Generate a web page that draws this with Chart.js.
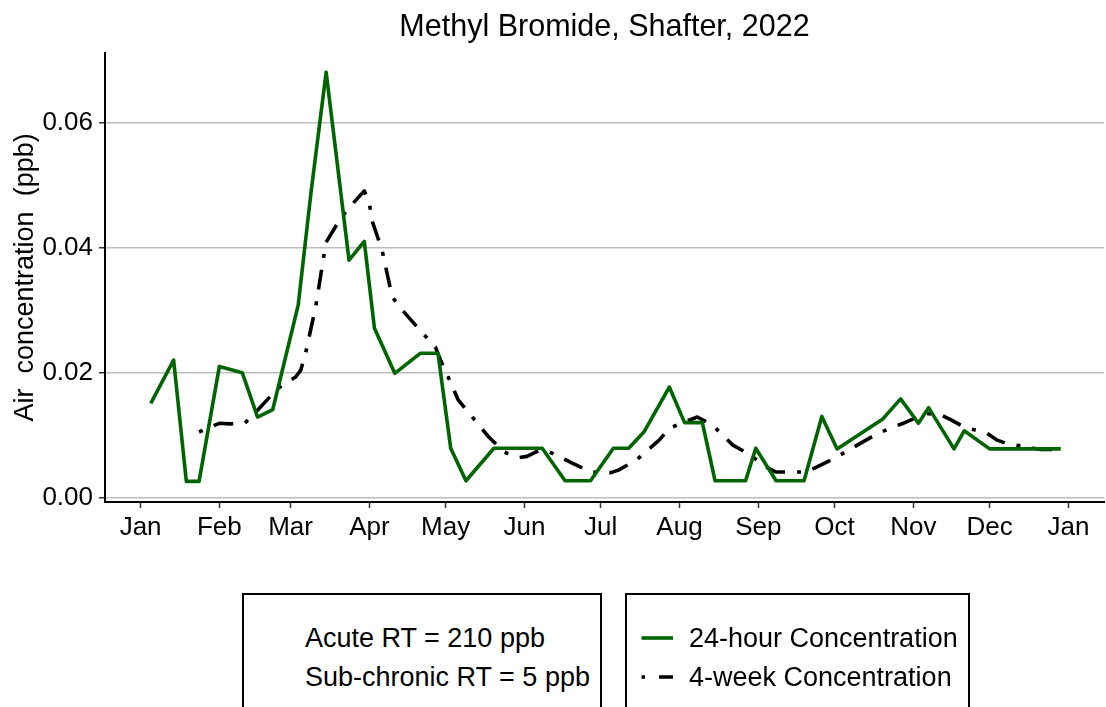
<!DOCTYPE html>
<html>
<head>
<meta charset="utf-8">
<script src="https://cdn.jsdelivr.net/npm/chart.js"></script>
<style>
  html, body { margin: 0; padding: 0; background: #fff; }
  #wrap { position: relative; width: 1106px; height: 707px; overflow: hidden; font-family: "Liberation Sans", Arial, sans-serif; color: #000; }
  #c { position: absolute; left: 0; top: 0; }
  .box { position: absolute; top: 593px; height: 140px; border: 2px solid #000; box-sizing: border-box; background: #fff; }
  .txt { position: absolute; font-size: 27px; line-height: 30px; white-space: nowrap; }
  .key { position: absolute; }
</style>
</head>
<body>
<div id="wrap">
  <canvas id="c" width="1106" height="707"></canvas>
  <div class="box" style="left:242px;width:360px;"></div>
  <div class="box" id="legbox" style="left:625px;width:345px;"></div>
</div>
<script>
// ---- data ----
const chartTitle = "Methyl Bromide, Shafter, 2022";
const yAxisTitle = "Air  concentration  (ppb)";
const thresholdNotes = ["Acute RT = 210 ppb", "Sub-chronic RT = 5 ppb"];

const seriesNames = ["24-hour Concentration", "4-week Concentration"];

const dates24h = ["2022-01-05","2022-01-14","2022-01-19","2022-01-24","2022-02-01","2022-02-10","2022-02-16","2022-02-22",
  "2022-03-04","2022-03-09","2022-03-15","2022-03-24","2022-03-30","2022-04-03","2022-04-11","2022-04-21","2022-04-28",
  "2022-05-03","2022-05-09","2022-05-20","2022-06-08","2022-06-17","2022-06-27","2022-07-06","2022-07-12","2022-07-18",
  "2022-07-28","2022-08-03","2022-08-10","2022-08-15","2022-08-27","2022-08-31","2022-09-08","2022-09-19","2022-09-26",
  "2022-10-02","2022-10-20","2022-10-27","2022-11-03","2022-11-07","2022-11-17","2022-11-21","2022-12-01","2022-12-29"];
const values24h = [0.0151,0.0220,0.0026,0.0026,0.0210,0.0200,0.0129,0.0141,
  0.0308,0.0487,0.0681,0.0380,0.0410,0.0271,0.0199,0.0231,0.0231,
  0.0079,0.0027,0.0079,0.0079,0.0027,0.0027,0.0079,0.0079,0.0105,
  0.0177,0.0120,0.0120,0.0027,0.0027,0.0079,0.0027,0.0027,0.0130,
  0.0078,0.0126,0.0158,0.0119,0.0144,0.0078,0.0107,0.0078,0.0078];

const dates4wk = ["2022-01-24","2022-02-01","2022-02-05","2022-02-11","2022-02-16","2022-02-24","2022-03-03","2022-03-05",
  "2022-03-07","2022-03-11","2022-03-14","2022-03-15","2022-03-21","2022-03-26","2022-03-30","2022-04-01","2022-04-02",
  "2022-04-06","2022-04-10","2022-04-14","2022-04-22","2022-04-27","2022-04-29","2022-05-02","2022-05-06","2022-05-18",
  "2022-05-24","2022-05-30","2022-06-02","2022-06-07","2022-06-11","2022-06-20","2022-06-27","2022-07-05","2022-07-08",
  "2022-07-15","2022-07-24","2022-07-28","2022-08-03","2022-08-08","2022-08-14","2022-08-22","2022-08-29","2022-09-04",
  "2022-09-08","2022-09-14","2022-09-20","2022-10-01","2022-10-18","2022-10-28","2022-11-06","2022-11-12","2022-11-16",
  "2022-11-21","2022-11-30","2022-12-04","2022-12-08","2022-12-16","2022-12-21","2022-12-29"];
const values4wk = [0.0105,0.0119,0.0118,0.0119,0.0140,0.0175,0.0193,0.0204,
  0.0233,0.0308,0.0385,0.0409,0.0449,0.0473,0.0491,0.0471,0.0444,
  0.0396,0.0321,0.0300,0.0263,0.0241,0.0220,0.0193,0.0156,0.0097,
  0.0073,0.0064,0.0066,0.0076,0.0073,0.0055,0.0041,0.0040,0.0044,
  0.0060,0.0092,0.0111,0.0121,0.0129,0.0116,0.0084,0.0068,0.0049,
  0.0041,0.0041,0.0041,0.0063,0.0103,0.0119,0.0135,0.0132,0.0124,
  0.0113,0.0103,0.0092,0.0086,0.0081,0.0077,0.0077];

const monthTickDates = ["2022-01-01","2022-02-01","2022-03-01","2022-04-01","2022-05-01","2022-06-01","2022-07-01",
  "2022-08-01","2022-09-01","2022-10-01","2022-11-01","2022-12-01","2023-01-01"];
const monthTickLabels = ["Jan","Feb","Mar","Apr","May","Jun","Jul","Aug","Sep","Oct","Nov","Dec","Jan"];
const yTickValues = [0, 0.02, 0.04, 0.06];
const yTickLabels = ["0.00", "0.02", "0.04", "0.06"];

// ---- helpers ----
const ORIGIN = Date.UTC(2022, 0, 1);
function dayOf(s) {
  const [y, m, d] = s.split("-").map(Number);
  return (Date.UTC(y, m - 1, d) - ORIGIN) / 86400000;
}
const pts24 = dates24h.map((d, i) => ({ x: dayOf(d), y: values24h[i] }));
const pts4w = dates4wk.map((d, i) => ({ x: dayOf(d), y: values4wk[i] }));
const monthTickDays = monthTickDates.map(dayOf);

const GREEN = "#006400";
const FONT = "'Liberation Sans', Arial, sans-serif";
const DASH = [4, 12, 20, 12];

new Chart(document.getElementById("c"), {
  type: "line",
  data: {
    datasets: [
      { label: seriesNames[0], data: pts24, borderColor: GREEN, backgroundColor: GREEN, borderWidth: 3.6,
        pointRadius: 0, tension: 0, borderJoinStyle: "round", fill: false },
      { label: seriesNames[1], data: pts4w, borderColor: "#000", backgroundColor: "#000", borderWidth: 3.6,
        borderDash: DASH, pointRadius: 0, tension: 0, borderJoinStyle: "round", fill: false }
    ]
  },
  options: {
    responsive: false,
    animation: false,
    devicePixelRatio: 1,
    layout: { padding: { left: 0, right: 2, top: 0, bottom: 0 } },
    plugins: {
      legend: { display: false },
      tooltip: { enabled: false },
      title: {
        display: true, text: chartTitle, color: "#000", fullSize: false,
        font: { family: FONT, size: 30.5, weight: "normal" },
        padding: { top: 9, bottom: 7.2 }
      }
    },
    scales: {
      x: {
        type: "linear", min: -14, max: 379,
        afterBuildTicks: (s) => { s.ticks = monthTickDays.map(v => ({ value: v })); },
        afterFit: (s) => { s.height = 205; },
        ticks: {
          autoSkip: false, maxRotation: 0, color: "#000", padding: 4,
          font: { family: FONT, size: 26 },
          callback: (v, i) => monthTickLabels[i]
        },
        grid: { drawOnChartArea: false, drawTicks: true, tickLength: 6, tickColor: "#333", tickWidth: 1.5 },
        border: { display: true, color: "#000", width: 2 }
      },
      y: {
        type: "linear", min: -0.0007, max: 0.0712,
        afterBuildTicks: (s) => { s.ticks = yTickValues.map(v => ({ value: v })); },
        afterFit: (s) => { s.width = 105; },
        ticks: {
          color: "#000", padding: 6,
          font: { family: FONT, size: 26 },
          callback: (v, i) => yTickLabels[i]
        },
        grid: { color: "#bdbdbd", lineWidth: 1.5, drawTicks: true, tickLength: 6, tickColor: "#333", tickWidth: 1.5 },
        border: { display: true, color: "#000", width: 2 },
        title: {
          display: true, text: yAxisTitle, color: "#000",
          font: { family: FONT, size: 27, weight: "normal" },
          padding: { top: 9, bottom: 0 }
        }
      }
    }
  }
});

// ---- legend boxes (HTML text) ----
const wrap = document.getElementById("wrap");
function addText(txt, left, cy) {
  const d = document.createElement("div");
  d.className = "txt";
  d.style.left = left + "px";
  d.style.top = (cy - 15) + "px";
  d.textContent = txt;
  wrap.appendChild(d);
}
addText(thresholdNotes[0], 305, 638);
addText(thresholdNotes[1], 305, 677);
addText(seriesNames[0], 689, 638);
addText(seriesNames[1], 689, 677);

function addKey(cy, color, dash) {
  const ns = "http://www.w3.org/2000/svg";
  const svg = document.createElementNS(ns, "svg");
  svg.setAttribute("width", "34"); svg.setAttribute("height", "10");
  svg.setAttribute("class", "key");
  svg.style.left = "641px"; svg.style.top = (cy - 5) + "px";
  const ln = document.createElementNS(ns, "line");
  ln.setAttribute("x1", "0.5"); ln.setAttribute("x2", "32");
  ln.setAttribute("y1", "5"); ln.setAttribute("y2", "5");
  ln.setAttribute("stroke", color); ln.setAttribute("stroke-width", "3.6");
  if (dash) ln.setAttribute("stroke-dasharray", dash);
  svg.appendChild(ln);
  wrap.appendChild(svg);
}
addKey(638, GREEN, null);
addKey(677, "#000", "3.5 14 14 20");
</script>
</body>
</html>
